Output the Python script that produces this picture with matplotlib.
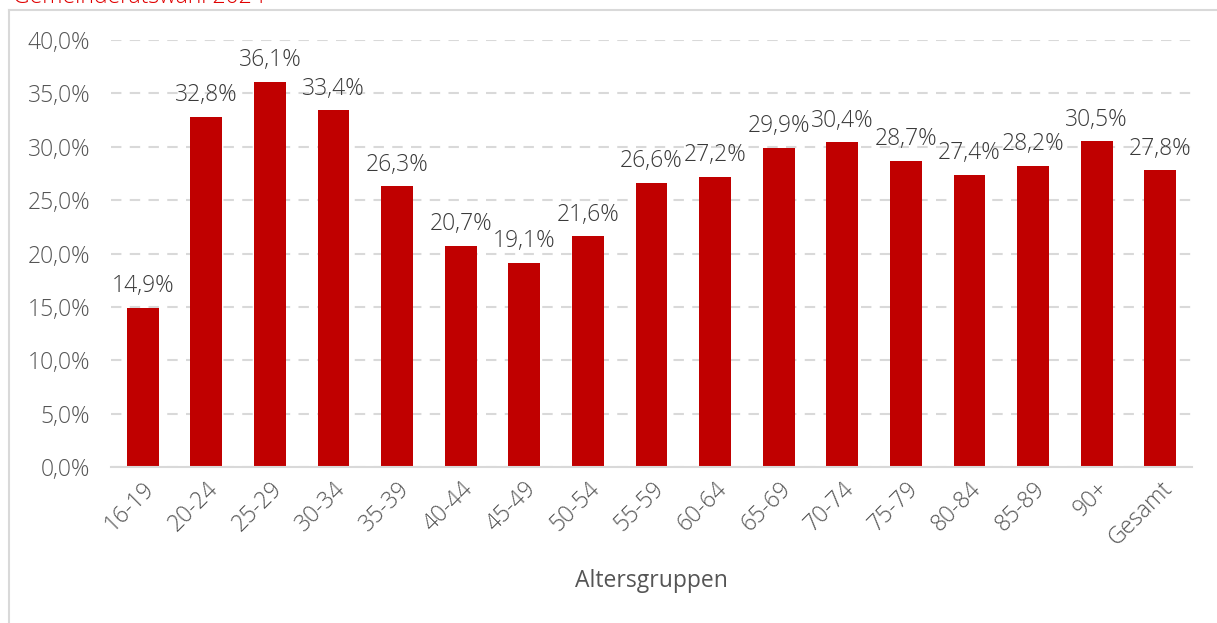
import matplotlib
matplotlib.use("Agg")
import matplotlib.pyplot as plt
from matplotlib.lines import Line2D

# Wahlbeteiligung nach Altersgruppen
categories = ["16-19", "20-24", "25-29", "30-34", "35-39", "40-44", "45-49", "50-54",
              "55-59", "60-64", "65-69", "70-74", "75-79", "80-84", "85-89", "90+", "Gesamt"]
values = [14.9, 32.8, 36.1, 33.4, 26.3, 20.7, 19.1, 21.6,
          26.6, 27.2, 29.9, 30.4, 28.7, 27.4, 28.2, 30.5, 27.8]
y_ticks = [0, 5, 10, 15, 20, 25, 30, 35, 40]

plt.rcParams["font.family"] = ["Open Sans", "DejaVu Sans"]
plt.rcParams["font.weight"] = "light"

FS = 16.5
W, H = 1217, 623
fig = plt.figure(figsize=(W / 100, H / 100), dpi=100)
fig.patch.set_facecolor("white")

ax = fig.add_axes([111 / W, 1 - 467 / H, (1192 - 111) / W, (467 - 40) / H])

x = range(len(categories))
ax.bar(x, values, width=0.5, color="#c00000", zorder=3)

for xi, v in zip(x, values):
    ax.annotate(f"{v:.1f}%".replace(".", ","), (xi, v), xytext=(0, 7),
                textcoords="offset points", ha="center", va="bottom",
                fontsize=FS, color="#3a3a3a", zorder=4)

ax.set_xlim(-0.5, len(categories) - 0.5)
ax.set_ylim(0, 40)
ax.set_yticks(y_ticks)
ax.set_yticklabels([f"{t:.1f}%".replace(".", ",") for t in y_ticks],
                   fontsize=FS, color="#555555")
ax.set_xticks(list(x))
ax.set_xticklabels(categories, rotation=45, ha="right", rotation_mode="anchor",
                   fontsize=FS, color="#555555")
ax.tick_params(axis="both", length=0)
ax.tick_params(axis="y", pad=15)
ax.tick_params(axis="x", pad=7)

ax.grid(axis="y", color="#d9d9d9", linestyle=(0, (5, 4)), linewidth=1.5, zorder=0)
for side in ["top", "right", "left"]:
    ax.spines[side].set_visible(False)
ax.spines["bottom"].set_color("#d9d9d9")
ax.spines["bottom"].set_linewidth(1.5)
ax.spines["bottom"].set_zorder(5)

ax.set_xlabel("Altersgruppen", fontsize=FS, color="#555555")
ax.xaxis.set_label_coords((651 - 111) / (1192 - 111), -(581 - 467) / (467 - 40))
ax.xaxis.label.set_va("center")

# chart frame
fig.add_artist(Line2D([9 / W, 9 / W], [0, 1 - 10 / H], transform=fig.transFigure,
                      color="#d9d9d9", linewidth=1.5))
fig.add_artist(Line2D([9 / W, 1], [1 - 10 / H, 1 - 10 / H], transform=fig.transFigure,
                      color="#d9d9d9", linewidth=1.5))

# chart heading (partly above the frame)
fig.text(13 / W, 1 - 3 / H, "Gemeinderatswahl 2024", fontsize=FS, color="#e00000",
         ha="left", va="baseline")

fig.savefig("out.png", dpi=100)
